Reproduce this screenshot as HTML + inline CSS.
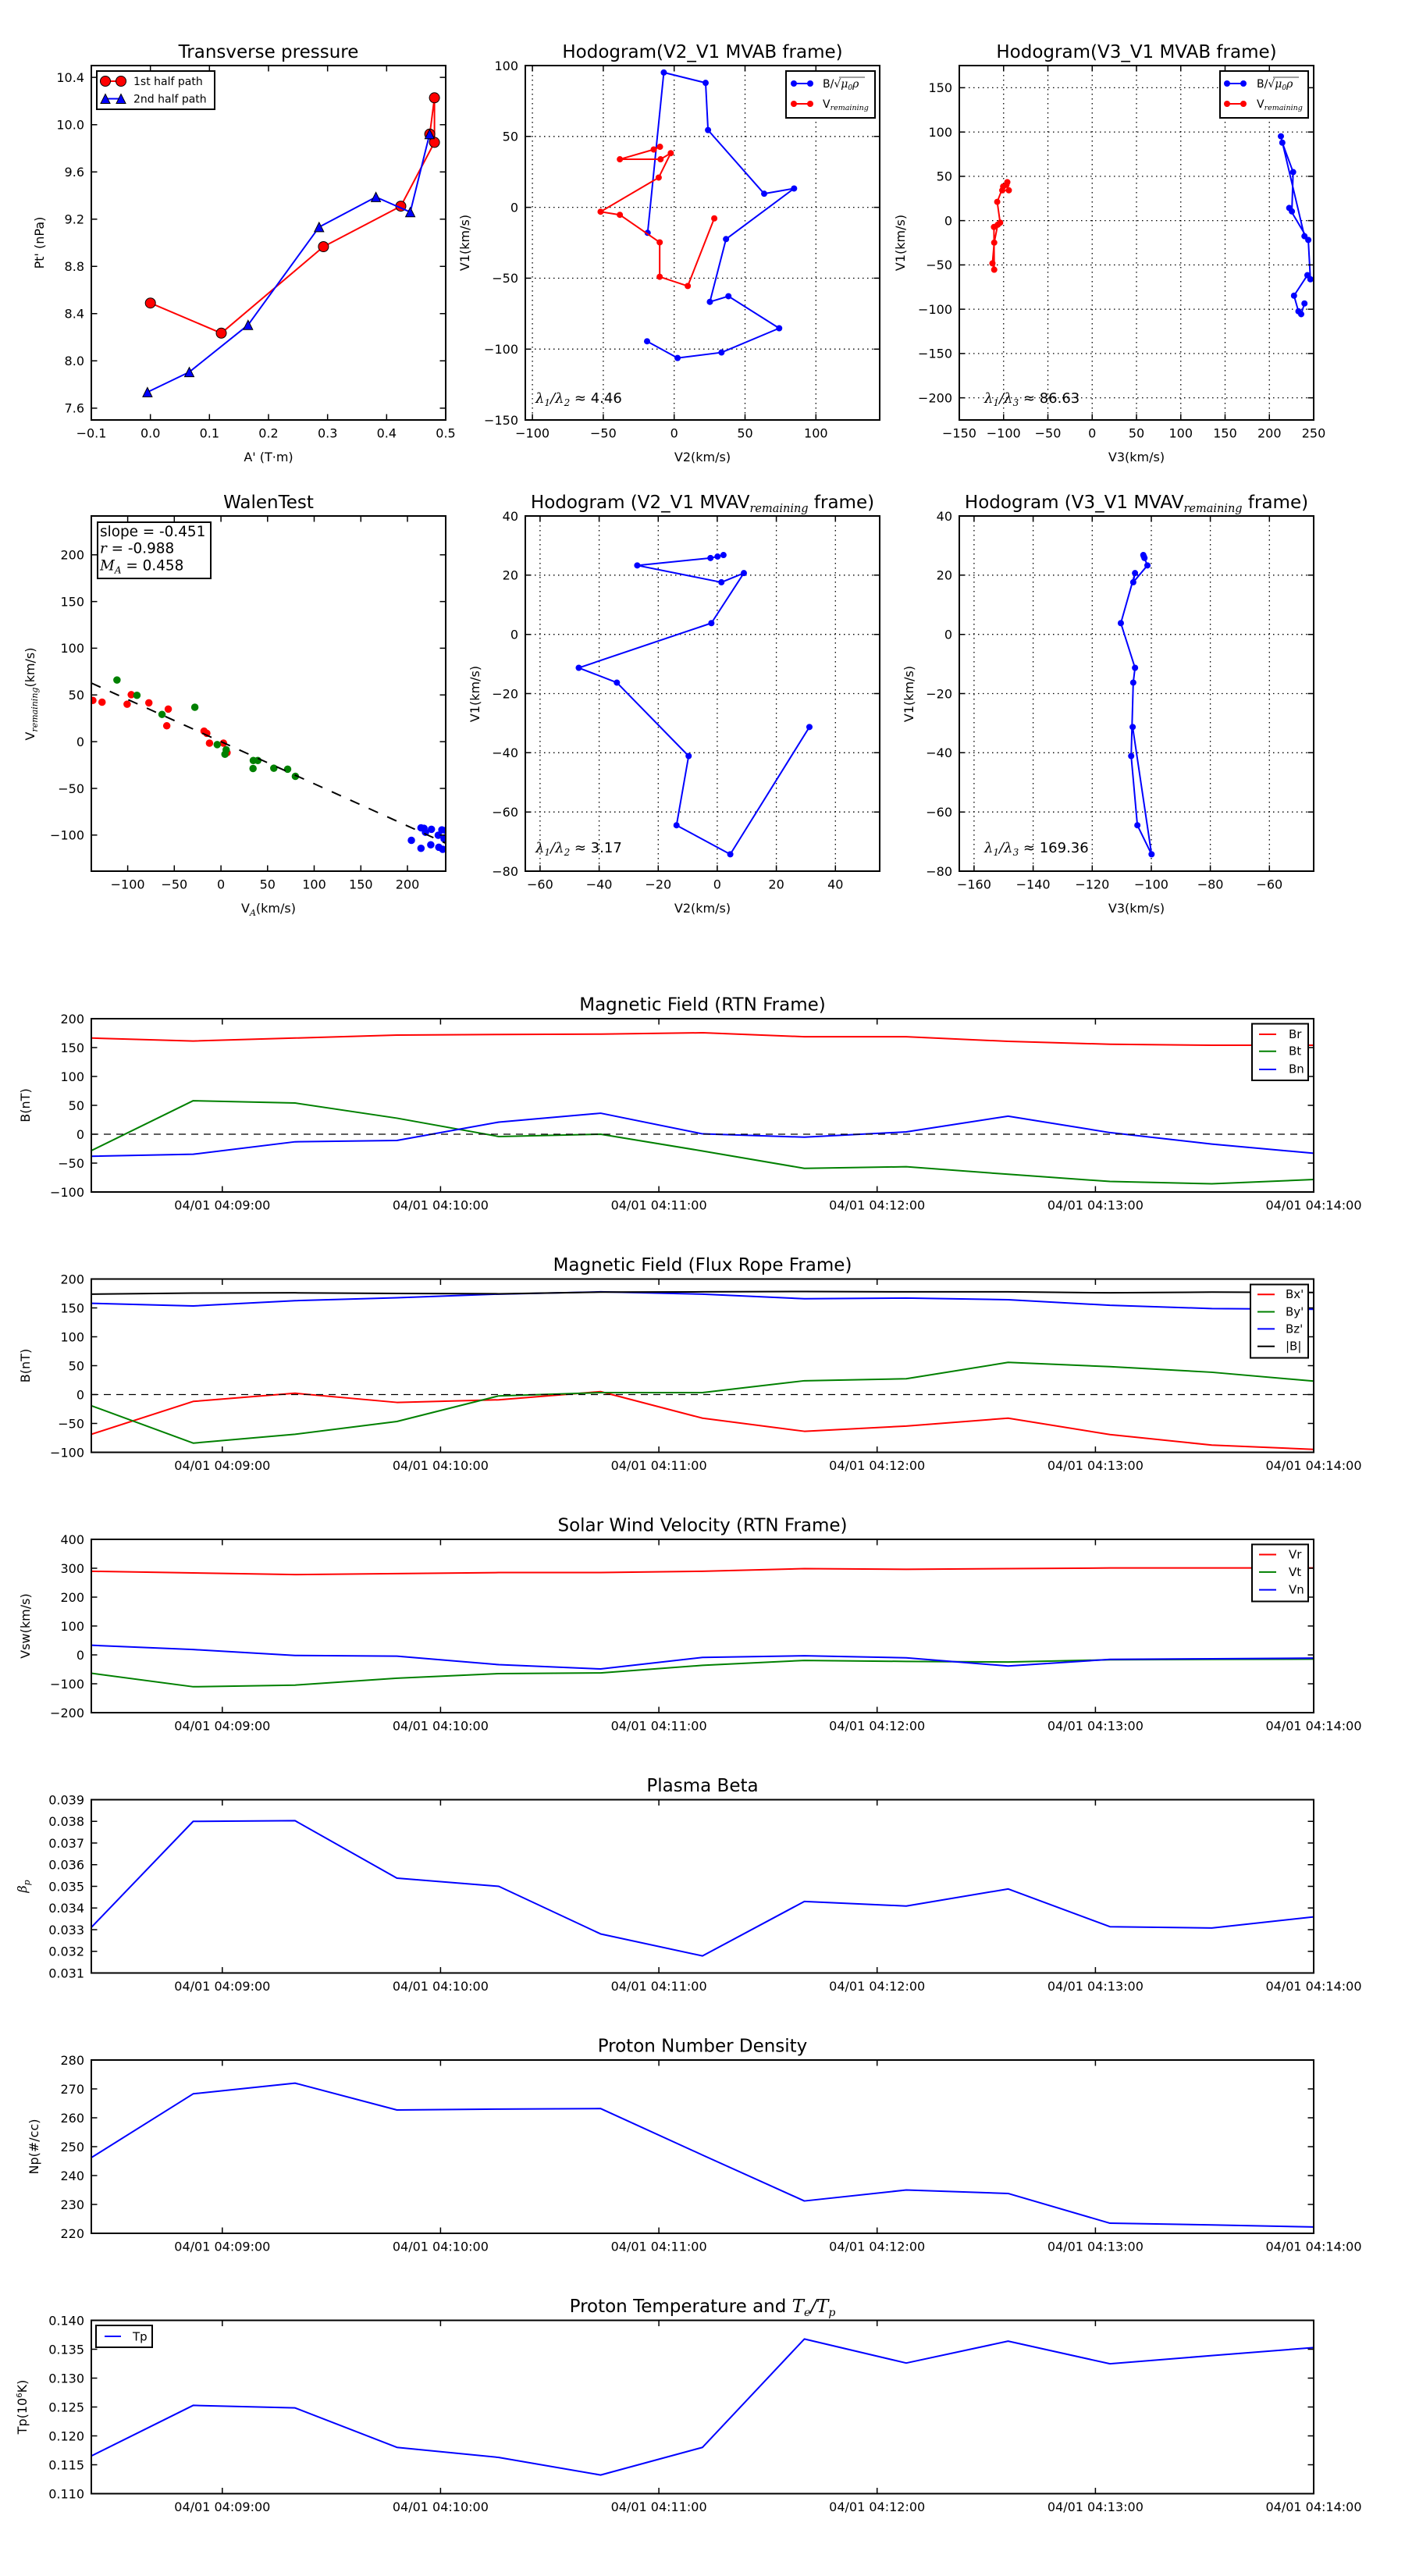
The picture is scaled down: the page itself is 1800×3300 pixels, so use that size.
<!DOCTYPE html>
<html><head><meta charset="utf-8"><style>
html,body{margin:0;padding:0;background:#fff}
svg{display:block}
text{font-family:"DejaVu Sans","Liberation Sans",sans-serif;fill:#000}
.m{font-family:"DejaVu Serif","Liberation Serif",serif;font-style:italic}
.tk{font-size:16px}
.ti{font-size:23px;text-anchor:middle}
.lb{font-size:16px;text-anchor:middle}
.lg{font-size:14px}
.lg2{font-size:15px}
.frame{fill:none;stroke:#000;stroke-width:2}
.tick{fill:none;stroke:#000;stroke-width:1.5}
.grid{fill:none;stroke:#000;stroke-width:1.3;stroke-dasharray:1.5,4.5}
.ln{fill:none;stroke-width:2;stroke-linejoin:round}
.mk{fill:none;stroke-linecap:round}
</style></head><body>
<svg width="1800" height="3300" viewBox="0 0 1800 3300" xmlns="http://www.w3.org/2000/svg">
<rect width="1800" height="3300" fill="#fff"/>

<!-- ============ Panel 1: Transverse pressure ============ -->
<text class="ti" x="344" y="74">Transverse pressure</text>
<polyline class="ln" stroke="#f00" points="192.7,388.2 283.5,426.8 414.4,316.0 513.5,264.1 556.6,182.4 556.6,125.3 550.6,171.8"/>
<g fill="#f00" stroke="#000" stroke-width="1">
<circle cx="192.7" cy="388.2" r="6.5"/><circle cx="283.5" cy="426.8" r="6.5"/><circle cx="414.4" cy="316.0" r="6.5"/><circle cx="513.5" cy="264.1" r="6.5"/><circle cx="556.6" cy="182.4" r="6.5"/><circle cx="556.6" cy="125.3" r="6.5"/><circle cx="550.6" cy="171.8" r="6.5"/>
</g>
<polyline class="ln" stroke="#00f" points="188.9,502.4 242.5,476.6 317.8,416.3 408.8,290.9 481.6,252.4 525.6,271.7 550.4,171.8"/>
<g fill="#00f" stroke="#000" stroke-width="1">
<polygon points="188.9,496.4 182.9,508.4 194.9,508.4"/><polygon points="242.5,470.6 236.5,482.6 248.5,482.6"/><polygon points="317.8,410.3 311.8,422.3 323.8,422.3"/><polygon points="408.8,284.9 402.8,296.9 414.8,296.9"/><polygon points="481.6,246.4 475.6,258.4 487.6,258.4"/><polygon points="525.6,265.7 519.6,277.7 531.6,277.7"/><polygon points="550.4,165.8 544.4,177.8 556.4,177.8"/>
</g>
<path class="tick" d="M192.67 538v-7.5M268.33 538v-7.5M344 538v-7.5M419.67 538v-7.5M495.33 538v-7.5M192.67 84v7.5M268.33 84v7.5M344 84v7.5M419.67 84v7.5M495.33 84v7.5M117 522.9h7.5M117 462.3h7.5M117 401.8h7.5M117 341.3h7.5M117 280.7h7.5M117 220.2h7.5M117 159.7h7.5M117 99.1h7.5M571 522.9h-7.5M571 462.3h-7.5M571 401.8h-7.5M571 341.3h-7.5M571 280.7h-7.5M571 220.2h-7.5M571 159.7h-7.5M571 99.1h-7.5"/>
<rect class="frame" x="117" y="84" width="454" height="454"/>
<rect x="124" y="91" width="151" height="49" fill="#fff" stroke="#000" stroke-width="2"/>
<line x1="135" y1="104" x2="155" y2="104" stroke="#f00" stroke-width="2"/>
<circle cx="135" cy="104" r="6.5" fill="#f00" stroke="#000"/><circle cx="155" cy="104" r="6.5" fill="#f00" stroke="#000"/>
<text class="lg" x="171" y="109" font-size="14.5">1st half path</text>
<line x1="135" y1="126.5" x2="155" y2="126.5" stroke="#00f" stroke-width="2"/>
<polygon points="135,120.5 129,132.5 141,132.5" fill="#00f" stroke="#000"/><polygon points="155,120.5 149,132.5 161,132.5" fill="#00f" stroke="#000"/>
<text class="lg" x="171" y="131.5" font-size="14.5">2nd half path</text>
<g class="tk" text-anchor="middle">
<text x="117" y="560.5">−0.1</text><text x="192.67" y="560.5">0.0</text><text x="268.33" y="560.5">0.1</text><text x="344" y="560.5">0.2</text><text x="419.67" y="560.5">0.3</text><text x="495.33" y="560.5">0.4</text><text x="571" y="560.5">0.5</text>
</g>
<g class="tk" text-anchor="end">
<text x="108" y="528.7">7.6</text><text x="108" y="468.1">8.0</text><text x="108" y="407.6">8.4</text><text x="108" y="347.1">8.8</text><text x="108" y="286.5">9.2</text><text x="108" y="226">9.6</text><text x="108" y="165.5">10.0</text><text x="108" y="104.9">10.4</text>
</g>
<text class="lb" x="344" y="591">A' (T·m)</text>
<text class="lb" transform="translate(56,311) rotate(-90)">Pt' (nPa)</text>

<!-- ============ Panel 2: Hodogram V2_V1 MVAB ============ -->
<text class="ti" x="900" y="74">Hodogram(V2_V1 MVAB frame)</text>
<path class="grid" d="M682.1 84V538M772.9 84V538M863.7 84V538M954.5 84V538M1045.3 84V538M673 174.8H1127M673 265.6H1127M673 356.4H1127M673 447.2H1127"/>
<svg x="673" y="84" width="454" height="454" viewBox="-105 -100 250 250" preserveAspectRatio="none">
<polyline class="ln" stroke="#00f" vector-effect="non-scaling-stroke" points="-18.7,18 -7.3,-95.1 22.2,-87.8 23.9,-54.5 63.5,-9.6 84.6,-13.3 36.6,22.4 25.2,66.7 38.3,62.7 74.1,85.3 33.4,102.4 2.4,106.3 -19.1,94.5"/>
<path class="mk" stroke="#00f" stroke-width="8" vector-effect="non-scaling-stroke" d="M-18.7 18h.01M-7.3 -95.1h.01M22.2 -87.8h.01M23.9 -54.5h.01M63.5 -9.6h.01M84.6 -13.3h.01M36.6 22.4h.01M25.2 66.7h.01M38.3 62.7h.01M74.1 85.3h.01M33.4 102.4h.01M2.4 106.3h.01M-19.1 94.5h.01"/>
<polyline class="ln" stroke="#f00" vector-effect="non-scaling-stroke" points="-10,-42.7 -14.4,-40.8 -38.3,-33.9 -9.6,-33.9 -2.4,-38.2 -10.9,-21 -51.9,3.1 -38.3,5.3 -10.2,24.7 -10.2,49 9.6,55.5 28.3,7.8"/>
<path class="mk" stroke="#f00" stroke-width="8" vector-effect="non-scaling-stroke" d="M-10 -42.7h.01M-14.4 -40.8h.01M-38.3 -33.9h.01M-9.6 -33.9h.01M-2.4 -38.2h.01M-10.9 -21h.01M-51.9 3.1h.01M-38.3 5.3h.01M-10.2 24.7h.01M-10.2 49h.01M9.6 55.5h.01M28.3 7.8h.01"/>
</svg>
<path class="tick" d="M682.1 538v-7.5M772.9 538v-7.5M863.7 538v-7.5M954.5 538v-7.5M1045.3 538v-7.5M682.1 84v7.5M772.9 84v7.5M863.7 84v7.5M954.5 84v7.5M1045.3 84v7.5M673 174.8h7.5M673 265.6h7.5M673 356.4h7.5M673 447.2h7.5M1127 174.8h-7.5M1127 265.6h-7.5M1127 356.4h-7.5M1127 447.2h-7.5"/>
<rect class="frame" x="673" y="84" width="454" height="454"/>
<rect x="1007" y="91" width="114" height="60" fill="#fff" stroke="#000" stroke-width="2"/>
<line x1="1017" y1="107" x2="1038" y2="107" stroke="#00f" stroke-width="2"/>
<circle cx="1017" cy="107" r="4" fill="#00f"/><circle cx="1038" cy="107" r="4" fill="#00f"/>
<text class="lg" x="1054" y="112">B/√<tspan class="m">μ<tspan font-size="9" dy="3">0</tspan><tspan dy="-3">ρ</tspan></tspan></text>
<line x1="1075" y1="99" x2="1108" y2="99" stroke="#000" stroke-width="0.8"/>
<line x1="1017" y1="133" x2="1038" y2="133" stroke="#f00" stroke-width="2"/>
<circle cx="1017" cy="133" r="4" fill="#f00"/><circle cx="1038" cy="133" r="4" fill="#f00"/>
<text class="lg" x="1054" y="138">V<tspan class="m" font-size="9.5" dy="3">remaining</tspan></text>
<text x="686" y="516" font-size="18"><tspan class="m">λ</tspan><tspan font-size="12" dy="4" class="m">1</tspan><tspan dy="-4" class="m">/</tspan><tspan class="m">λ</tspan><tspan font-size="12" dy="4" class="m">2</tspan><tspan dy="-4"> ≈ 4.46</tspan></text>
<g class="tk" text-anchor="middle">
<text x="682.1" y="560.5">−100</text><text x="772.9" y="560.5">−50</text><text x="863.7" y="560.5">0</text><text x="954.5" y="560.5">50</text><text x="1045.3" y="560.5">100</text>
</g>
<g class="tk" text-anchor="end">
<text x="664" y="89.8">100</text><text x="664" y="180.6">50</text><text x="664" y="271.4">0</text><text x="664" y="362.2">−50</text><text x="664" y="453">−100</text><text x="664" y="543.8">−150</text>
</g>
<text class="lb" x="900" y="591">V2(km/s)</text>
<text class="lb" transform="translate(601,311) rotate(-90)">V1(km/s)</text>

<!-- ============ Panel 3: Hodogram V3_V1 MVAB ============ -->
<text class="ti" x="1456" y="74">Hodogram(V3_V1 MVAB frame)</text>
<path class="grid" d="M1285.75 84V538M1342.5 84V538M1399.25 84V538M1456 84V538M1512.75 84V538M1569.5 84V538M1626.25 84V538M1229 112.4H1683M1229 169.1H1683M1229 225.9H1683M1229 282.6H1683M1229 339.4H1683M1229 396.1H1683M1229 452.9H1683M1229 509.6H1683"/>
<svg x="1229" y="84" width="454" height="454" viewBox="-150 -175 400 400" preserveAspectRatio="none">
<polyline class="ln" stroke="#00f" vector-effect="non-scaling-stroke" points="239.6,17.6 213,-95.2 214.6,-88 226.8,-54.8 225.4,-10.4 222.4,-14.3 243.9,21.8 246.3,66.2 242.9,61.6 227.8,84.7 232.8,102.3 235.9,105.6 239.6,93.5"/>
<path class="mk" stroke="#00f" stroke-width="8" vector-effect="non-scaling-stroke" d="M239.6 17.6h.01M213 -95.2h.01M214.6 -88h.01M226.8 -54.8h.01M225.4 -10.4h.01M222.4 -14.3h.01M243.9 21.8h.01M246.3 66.2h.01M242.9 61.6h.01M227.8 84.7h.01M232.8 102.3h.01M235.9 105.6h.01M239.6 93.5h.01"/>
<polyline class="ln" stroke="#f00" vector-effect="non-scaling-stroke" points="-95.8,-43.4 -96.8,-40.4 -94.1,-34.2 -101.5,-34.2 -100.5,-38.5 -107.2,-21.2 -103.9,2.3 -106.6,4.6 -110.6,24.8 -112.6,48.2 -110.6,55.4 -110.9,7.2"/>
<path class="mk" stroke="#f00" stroke-width="8" vector-effect="non-scaling-stroke" d="M-95.8 -43.4h.01M-96.8 -40.4h.01M-94.1 -34.2h.01M-101.5 -34.2h.01M-100.5 -38.5h.01M-107.2 -21.2h.01M-103.9 2.3h.01M-106.6 4.6h.01M-110.6 24.8h.01M-112.6 48.2h.01M-110.6 55.4h.01M-110.9 7.2h.01"/>
</svg>
<path class="tick" d="M1285.75 538v-7.5M1342.5 538v-7.5M1399.25 538v-7.5M1456 538v-7.5M1512.75 538v-7.5M1569.5 538v-7.5M1626.25 538v-7.5M1285.75 84v7.5M1342.5 84v7.5M1399.25 84v7.5M1456 84v7.5M1512.75 84v7.5M1569.5 84v7.5M1626.25 84v7.5M1229 112.4h7.5M1229 169.1h7.5M1229 225.9h7.5M1229 282.6h7.5M1229 339.4h7.5M1229 396.1h7.5M1229 452.9h7.5M1229 509.6h7.5M1683 112.4h-7.5M1683 169.1h-7.5M1683 225.9h-7.5M1683 282.6h-7.5M1683 339.4h-7.5M1683 396.1h-7.5M1683 452.9h-7.5M1683 509.6h-7.5"/>
<rect class="frame" x="1229" y="84" width="454" height="454"/>
<rect x="1563" y="91" width="113" height="60" fill="#fff" stroke="#000" stroke-width="2"/>
<line x1="1572" y1="107" x2="1593" y2="107" stroke="#00f" stroke-width="2"/>
<circle cx="1572" cy="107" r="4" fill="#00f"/><circle cx="1593" cy="107" r="4" fill="#00f"/>
<text class="lg" x="1610" y="112">B/√<tspan class="m">μ<tspan font-size="9" dy="3">0</tspan><tspan dy="-3">ρ</tspan></tspan></text>
<line x1="1631" y1="99" x2="1664" y2="99" stroke="#000" stroke-width="0.8"/>
<line x1="1572" y1="133" x2="1593" y2="133" stroke="#f00" stroke-width="2"/>
<circle cx="1572" cy="133" r="4" fill="#f00"/><circle cx="1593" cy="133" r="4" fill="#f00"/>
<text class="lg" x="1610" y="138">V<tspan class="m" font-size="9.5" dy="3">remaining</tspan></text>
<text x="1261" y="516" font-size="18"><tspan class="m">λ</tspan><tspan font-size="12" dy="4" class="m">1</tspan><tspan dy="-4" class="m">/</tspan><tspan class="m">λ</tspan><tspan font-size="12" dy="4" class="m">3</tspan><tspan dy="-4"> ≈ 86.63</tspan></text>
<g class="tk" text-anchor="middle">
<text x="1229" y="560.5">−150</text><text x="1285.75" y="560.5">−100</text><text x="1342.5" y="560.5">−50</text><text x="1399.25" y="560.5">0</text><text x="1456" y="560.5">50</text><text x="1512.75" y="560.5">100</text><text x="1569.5" y="560.5">150</text><text x="1626.25" y="560.5">200</text><text x="1683" y="560.5">250</text>
</g>
<g class="tk" text-anchor="end">
<text x="1220" y="118.2">150</text><text x="1220" y="174.9">100</text><text x="1220" y="231.7">50</text><text x="1220" y="288.4">0</text><text x="1220" y="345.2">−50</text><text x="1220" y="401.9">−100</text><text x="1220" y="458.7">−150</text><text x="1220" y="515.4">−200</text>
</g>
<text class="lb" x="1456" y="591">V3(km/s)</text>
<text class="lb" transform="translate(1159,311) rotate(-90)">V1(km/s)</text>

<!-- ============ Panel 4: WalenTest ============ -->
<text class="ti" x="344" y="651">WalenTest</text>
<svg x="117" y="661" width="454" height="455" viewBox="-139 -241.5 380 380" preserveAspectRatio="none">
<path class="mk" stroke="#f00" stroke-width="9.5" vector-effect="non-scaling-stroke" d="M-137.4 -44.2h.01M-127.5 -42.3h.01M-100.6 -40.1h.01M-96.2 -50.3h.01M-77.3 -41.6h.01M-56.5 -34.9h.01M-58.1 -17h.01M-18.1 -11.3h.01M-15.2 -9h.01M-12.3 1.5h.01M2.7 1.5h.01M6.5 11.8h.01"/>
<path class="mk" stroke="#008000" stroke-width="9.5" vector-effect="non-scaling-stroke" d="M-111.5 -66h.01M-90.1 -49.6h.01M-63.2 -29.2h.01M-28 -36.9h.01M-4 3.1h.01M5.6 8.6h.01M4.3 13.4h.01M34.7 20.1h.01M39.5 20.1h.01M34.4 28.7h.01M56.7 28.4h.01M71.5 29.4h.01M79.8 37h.01"/>
<path class="mk" stroke="#00f" stroke-width="9.5" vector-effect="non-scaling-stroke" d="M204.2 105.5h.01M214.5 92.1h.01M217.7 92.7h.01M219.3 96.9h.01M225.7 93.7h.01M214.5 114.1h.01M225 110.3h.01M233 100.1h.01M236.9 94.3h.01M233.6 112.9h.01M237.8 115.1h.01M239.3 103.9h.01M241 95h.01"/>
</svg>
<line x1="117" y1="875" x2="571" y2="1080.2" stroke="#000" stroke-width="2" stroke-dasharray="13,13"/>
<path class="tick" d="M163.6 1116v-7.5M223.3 1116v-7.5M283.1 1116v-7.5M342.8 1116v-7.5M402.5 1116v-7.5M462.3 1116v-7.5M522 1116v-7.5M163.6 661v7.5M223.3 661v7.5M283.1 661v7.5M342.8 661v7.5M402.5 661v7.5M462.3 661v7.5M522 661v7.5M117 710.7h7.5M117 770.6h7.5M117 830.4h7.5M117 890.3h7.5M117 950.1h7.5M117 1010h7.5M117 1069.8h7.5M571 710.7h-7.5M571 770.6h-7.5M571 830.4h-7.5M571 890.3h-7.5M571 950.1h-7.5M571 1010h-7.5M571 1069.8h-7.5"/>
<rect class="frame" x="117" y="661" width="454" height="455"/>
<rect x="125" y="669" width="145" height="72" fill="#fff" stroke="#000" stroke-width="2"/>
<text x="128" y="687" font-size="18.4">slope = -0.451</text>
<text x="128" y="708.5" font-size="18.4"><tspan class="m">r</tspan> = -0.988</text>
<text x="128" y="730.5" font-size="18.4"><tspan class="m">M</tspan><tspan class="m" font-size="12" dy="4">A</tspan><tspan dy="-4"> = 0.458</tspan></text>
<g class="tk" text-anchor="middle">
<text x="163.6" y="1138.5">−100</text><text x="223.3" y="1138.5">−50</text><text x="283.1" y="1138.5">0</text><text x="342.8" y="1138.5">50</text><text x="402.5" y="1138.5">100</text><text x="462.3" y="1138.5">150</text><text x="522" y="1138.5">200</text>
</g>
<g class="tk" text-anchor="end">
<text x="108" y="716.5">200</text><text x="108" y="776.4">150</text><text x="108" y="836.2">100</text><text x="108" y="896.1">50</text><text x="108" y="955.9">0</text><text x="108" y="1015.8">−50</text><text x="108" y="1075.6">−100</text>
</g>
<text class="lb" x="344" y="1169">V<tspan class="m" font-size="11" dy="4">A</tspan><tspan dy="-4">(km/s)</tspan></text>
<text class="lb" transform="translate(44,889) rotate(-90)">V<tspan class="m" font-size="11" dy="4">remaining</tspan><tspan dy="-4">(km/s)</tspan></text>

<!-- ============ Panel 5: Hodogram V2_V1 MVAV ============ -->
<text class="ti" x="900" y="651">Hodogram (V2_V1 MVAV<tspan class="m" font-size="14.5" dy="5">remaining</tspan><tspan dy="-5"> frame)</tspan></text>
<path class="grid" d="M691.9 661V1116M767.6 661V1116M843.3 661V1116M918.9 661V1116M994.6 661V1116M1070.3 661V1116M673 736.8H1127M673 812.7H1127M673 888.5H1127M673 964.3H1127M673 1040.2H1127"/>
<svg x="673" y="661" width="454" height="455" viewBox="-65 -40 120 120" preserveAspectRatio="none">
<polyline class="ln" stroke="#00f" vector-effect="non-scaling-stroke" points="2.1,-26.8 0.1,-26.3 -2.3,-25.8 -27.1,-23.3 1.4,-17.6 9,-20.7 -2,-3.8 -46.9,11.3 -34,16.3 -9.7,41.1 -13.8,64.5 4.4,74.3 31.2,31.3"/>
<path class="mk" stroke="#00f" stroke-width="8" vector-effect="non-scaling-stroke" d="M2.1 -26.8h.01M0.1 -26.3h.01M-2.3 -25.8h.01M-27.1 -23.3h.01M1.4 -17.6h.01M9 -20.7h.01M-2 -3.8h.01M-46.9 11.3h.01M-34 16.3h.01M-9.7 41.1h.01M-13.8 64.5h.01M4.4 74.3h.01M31.2 31.3h.01"/>
</svg>
<path class="tick" d="M691.9 1116v-7.5M767.6 1116v-7.5M843.3 1116v-7.5M918.9 1116v-7.5M994.6 1116v-7.5M1070.3 1116v-7.5M691.9 661v7.5M767.6 661v7.5M843.3 661v7.5M918.9 661v7.5M994.6 661v7.5M1070.3 661v7.5M673 736.8h7.5M673 812.7h7.5M673 888.5h7.5M673 964.3h7.5M673 1040.2h7.5M1127 736.8h-7.5M1127 812.7h-7.5M1127 888.5h-7.5M1127 964.3h-7.5M1127 1040.2h-7.5"/>
<rect class="frame" x="673" y="661" width="454" height="455"/>
<text x="686" y="1092" font-size="18"><tspan class="m">λ</tspan><tspan font-size="12" dy="4" class="m">1</tspan><tspan dy="-4" class="m">/</tspan><tspan class="m">λ</tspan><tspan font-size="12" dy="4" class="m">2</tspan><tspan dy="-4"> ≈ 3.17</tspan></text>
<g class="tk" text-anchor="middle">
<text x="691.9" y="1138.5">−60</text><text x="767.6" y="1138.5">−40</text><text x="843.3" y="1138.5">−20</text><text x="918.9" y="1138.5">0</text><text x="994.6" y="1138.5">20</text><text x="1070.3" y="1138.5">40</text>
</g>
<g class="tk" text-anchor="end">
<text x="664" y="666.8">40</text><text x="664" y="742.6">20</text><text x="664" y="818.5">0</text><text x="664" y="894.3">−20</text><text x="664" y="970.1">−40</text><text x="664" y="1046">−60</text><text x="664" y="1121.8">−80</text>
</g>
<text class="lb" x="900" y="1169">V2(km/s)</text>
<text class="lb" transform="translate(614,889) rotate(-90)">V1(km/s)</text>

<!-- ============ Panel 6: Hodogram V3_V1 MVAV ============ -->
<text class="ti" x="1456" y="651">Hodogram (V3_V1 MVAV<tspan class="m" font-size="14.5" dy="5">remaining</tspan><tspan dy="-5"> frame)</tspan></text>
<path class="grid" d="M1247.9 661V1116M1323.6 661V1116M1399.3 661V1116M1475 661V1116M1550.6 661V1116M1626.3 661V1116M1229 736.8H1683M1229 812.7H1683M1229 888.5H1683M1229 964.3H1683M1229 1040.2H1683"/>
<svg x="1229" y="661" width="454" height="455" viewBox="-165 -40 120 120" preserveAspectRatio="none">
<polyline class="ln" stroke="#00f" vector-effect="non-scaling-stroke" points="-102.7,-26.8 -102.5,-26.3 -102.3,-25.8 -101.3,-23.3 -106.1,-17.6 -105.5,-20.7 -110.3,-3.8 -105.5,11.3 -106.1,16.3 -106.8,41.1 -104.7,64.5 -99.9,74.3 -106.3,31.3"/>
<path class="mk" stroke="#00f" stroke-width="8" vector-effect="non-scaling-stroke" d="M-102.7 -26.8h.01M-102.5 -26.3h.01M-102.3 -25.8h.01M-101.3 -23.3h.01M-106.1 -17.6h.01M-105.5 -20.7h.01M-110.3 -3.8h.01M-105.5 11.3h.01M-106.1 16.3h.01M-106.8 41.1h.01M-104.7 64.5h.01M-99.9 74.3h.01M-106.3 31.3h.01"/>
</svg>
<path class="tick" d="M1247.9 1116v-7.5M1323.6 1116v-7.5M1399.3 1116v-7.5M1475 1116v-7.5M1550.6 1116v-7.5M1626.3 1116v-7.5M1247.9 661v7.5M1323.6 661v7.5M1399.3 661v7.5M1475 661v7.5M1550.6 661v7.5M1626.3 661v7.5M1229 736.8h7.5M1229 812.7h7.5M1229 888.5h7.5M1229 964.3h7.5M1229 1040.2h7.5M1683 736.8h-7.5M1683 812.7h-7.5M1683 888.5h-7.5M1683 964.3h-7.5M1683 1040.2h-7.5"/>
<rect class="frame" x="1229" y="661" width="454" height="455"/>
<text x="1261" y="1092" font-size="18"><tspan class="m">λ</tspan><tspan font-size="12" dy="4" class="m">1</tspan><tspan dy="-4" class="m">/</tspan><tspan class="m">λ</tspan><tspan font-size="12" dy="4" class="m">3</tspan><tspan dy="-4"> ≈ 169.36</tspan></text>
<g class="tk" text-anchor="middle">
<text x="1247.9" y="1138.5">−160</text><text x="1323.6" y="1138.5">−140</text><text x="1399.3" y="1138.5">−120</text><text x="1475" y="1138.5">−100</text><text x="1550.6" y="1138.5">−80</text><text x="1626.3" y="1138.5">−60</text>
</g>
<g class="tk" text-anchor="end">
<text x="1220" y="666.8">40</text><text x="1220" y="742.6">20</text><text x="1220" y="818.5">0</text><text x="1220" y="894.3">−20</text><text x="1220" y="970.1">−40</text><text x="1220" y="1046">−60</text><text x="1220" y="1121.8">−80</text>
</g>
<text class="lb" x="1456" y="1169">V3(km/s)</text>
<text class="lb" transform="translate(1170,889) rotate(-90)">V1(km/s)</text>

<!-- ============ TS A: Magnetic Field (RTN) ============ -->
<text class="ti" x="900" y="1294.5">Magnetic Field (RTN Frame)</text>
<svg x="117" y="1305" width="1566" height="222" viewBox="0 -200 336 300" preserveAspectRatio="none">
<polyline class="ln" stroke="#f00" vector-effect="non-scaling-stroke" points="0,-166.5 28,-161.4 56,-166.5 84,-171.6 112,-172.7 140,-173.3 168,-175.6 196,-168.8 224,-168.8 252,-160.8 280,-155.7 308,-154 336,-154"/>
<polyline class="ln" stroke="#008000" vector-effect="non-scaling-stroke" points="0,28.4 28,-58 56,-54 84,-27.8 112,4 140,0 168,29 196,59.1 224,56.3 252,69.3 280,81.8 308,85.8 336,78.4"/>
<polyline class="ln" stroke="#00f" vector-effect="non-scaling-stroke" points="0,38.1 28,34.7 56,13.1 84,10.8 112,-21 140,-36.4 168,-0.6 196,5.1 224,-4 252,-31.3 280,-2.8 308,17 336,33"/>
</svg>
<line x1="117" y1="1453" x2="1683" y2="1453" stroke="#000" stroke-width="1.2" stroke-dasharray="9,7"/>
<path class="tick" d="M284.8 1527v-7.5M564.4 1527v-7.5M844.1 1527v-7.5M1123.7 1527v-7.5M1403.4 1527v-7.5M284.8 1305v7.5M564.4 1305v7.5M844.1 1305v7.5M1123.7 1305v7.5M1403.4 1305v7.5M117 1342h7.5M117 1379h7.5M117 1416h7.5M117 1453h7.5M117 1490h7.5M1683 1342h-7.5M1683 1379h-7.5M1683 1416h-7.5M1683 1453h-7.5M1683 1490h-7.5"/>
<rect class="frame" x="117" y="1305" width="1566" height="222"/>
<rect x="1604" y="1311.5" width="72" height="72.5" fill="#fff" stroke="#000" stroke-width="2"/>
<line x1="1613" y1="1325" x2="1635" y2="1325" stroke="#f00" stroke-width="2"/><text class="lg2" x="1651" y="1330">Br</text>
<line x1="1613" y1="1346.7" x2="1635" y2="1346.7" stroke="#008000" stroke-width="2"/><text class="lg2" x="1651" y="1351.7">Bt</text>
<line x1="1613" y1="1370" x2="1635" y2="1370" stroke="#00f" stroke-width="2"/><text class="lg2" x="1651" y="1374.5">Bn</text>
<g class="tk" text-anchor="middle">
<text x="284.8" y="1549.5">04/01 04:09:00</text><text x="564.4" y="1549.5">04/01 04:10:00</text><text x="844.1" y="1549.5">04/01 04:11:00</text><text x="1123.7" y="1549.5">04/01 04:12:00</text><text x="1403.4" y="1549.5">04/01 04:13:00</text><text x="1683" y="1549.5">04/01 04:14:00</text>
</g>
<g class="tk" text-anchor="end">
<text x="108" y="1310.8">200</text><text x="108" y="1347.8">150</text><text x="108" y="1384.8">100</text><text x="108" y="1421.8">50</text><text x="108" y="1458.8">0</text><text x="108" y="1495.8">−50</text><text x="108" y="1532.8">−100</text>
</g>
<text class="lb" transform="translate(38,1416) rotate(-90)">B(nT)</text>

<!-- ============ TS B: Magnetic Field (Flux Rope) ============ -->
<text class="ti" x="900" y="1628">Magnetic Field (Flux Rope Frame)</text>
<svg x="117" y="1638.5" width="1566" height="222" viewBox="0 -200 336 300" preserveAspectRatio="none">
<polyline class="ln" stroke="#f00" vector-effect="non-scaling-stroke" points="0,68.8 28,11.9 56,-2.3 84,13.6 112,9.1 140,-5.1 168,40.9 196,63.6 224,54.5 252,40.9 280,69.3 308,87.5 336,94.9"/>
<polyline class="ln" stroke="#008000" vector-effect="non-scaling-stroke" points="0,19.3 28,84.1 56,68.8 84,46.6 112,2.3 140,-3.4 168,-3.4 196,-23.9 224,-27.3 252,-55.7 280,-48.3 308,-38.6 336,-23.3"/>
<polyline class="ln" stroke="#00f" vector-effect="non-scaling-stroke" points="0,-158 28,-153.4 56,-162.5 84,-167.6 112,-173.9 140,-177.8 168,-173.9 196,-165.9 224,-167 252,-164.2 280,-154.5 308,-148.9 336,-147.7"/>
<polyline class="ln" stroke="#000" vector-effect="non-scaling-stroke" points="0,-173.9 28,-175.6 56,-176.1 84,-175 112,-174.4 140,-177.3 168,-177.8 196,-178.4 224,-177.8 252,-177.8 280,-176.1 308,-177.3 336,-176.7"/>
</svg>
<line x1="117" y1="1786.5" x2="1683" y2="1786.5" stroke="#000" stroke-width="1.2" stroke-dasharray="9,7"/>
<path class="tick" d="M284.8 1860.5v-7.5M564.4 1860.5v-7.5M844.1 1860.5v-7.5M1123.7 1860.5v-7.5M1403.4 1860.5v-7.5M284.8 1638.5v7.5M564.4 1638.5v7.5M844.1 1638.5v7.5M1123.7 1638.5v7.5M1403.4 1638.5v7.5M117 1675.5h7.5M117 1712.5h7.5M117 1749.5h7.5M117 1786.5h7.5M117 1823.5h7.5M1683 1675.5h-7.5M1683 1712.5h-7.5M1683 1749.5h-7.5M1683 1786.5h-7.5M1683 1823.5h-7.5"/>
<rect class="frame" x="117" y="1638.5" width="1566" height="222"/>
<rect x="1602" y="1645.5" width="74" height="94" fill="#fff" stroke="#000" stroke-width="2"/>
<line x1="1611" y1="1658.2" x2="1633" y2="1658.2" stroke="#f00" stroke-width="2"/><text class="lg2" x="1647" y="1663.2">Bx'</text>
<line x1="1611" y1="1680.5" x2="1633" y2="1680.5" stroke="#008000" stroke-width="2"/><text class="lg2" x="1647" y="1685.5">By'</text>
<line x1="1611" y1="1702.4" x2="1633" y2="1702.4" stroke="#00f" stroke-width="2"/><text class="lg2" x="1647" y="1707.4">Bz'</text>
<line x1="1611" y1="1724.7" x2="1633" y2="1724.7" stroke="#000" stroke-width="2"/><text class="lg2" x="1647" y="1729.7">|B|</text>
<g class="tk" text-anchor="middle">
<text x="284.8" y="1883">04/01 04:09:00</text><text x="564.4" y="1883">04/01 04:10:00</text><text x="844.1" y="1883">04/01 04:11:00</text><text x="1123.7" y="1883">04/01 04:12:00</text><text x="1403.4" y="1883">04/01 04:13:00</text><text x="1683" y="1883">04/01 04:14:00</text>
</g>
<g class="tk" text-anchor="end">
<text x="108" y="1644.3">200</text><text x="108" y="1681.3">150</text><text x="108" y="1718.3">100</text><text x="108" y="1755.3">50</text><text x="108" y="1792.3">0</text><text x="108" y="1829.3">−50</text><text x="108" y="1866.3">−100</text>
</g>
<text class="lb" transform="translate(38,1749.5) rotate(-90)">B(nT)</text>

<!-- ============ TS C: Solar Wind Velocity ============ -->
<text class="ti" x="900" y="1961.5">Solar Wind Velocity (RTN Frame)</text>
<svg x="117" y="1972" width="1566" height="222" viewBox="0 -400 336 600" preserveAspectRatio="none">
<polyline class="ln" stroke="#f00" vector-effect="non-scaling-stroke" points="0,-289.5 28,-283.8 56,-278.1 84,-281.5 112,-285 140,-285 168,-289.5 196,-298.6 224,-296.4 252,-298.6 280,-300.9 308,-300.9 336,-300.9"/>
<polyline class="ln" stroke="#008000" vector-effect="non-scaling-stroke" points="0,63.6 28,110.3 56,104.6 84,80.6 112,64.7 140,62.4 168,36.2 196,19.1 224,22.6 252,24.8 280,16.9 308,15.7 336,14.6"/>
<polyline class="ln" stroke="#00f" vector-effect="non-scaling-stroke" points="0,-33.3 28,-18.5 56,2.1 84,4.3 112,33.9 140,48.7 168,8.9 196,3.2 224,10 252,38.5 280,15.7 308,13.4 336,11.2"/>
</svg>
<path class="tick" d="M284.8 2194v-7.5M564.4 2194v-7.5M844.1 2194v-7.5M1123.7 2194v-7.5M1403.4 2194v-7.5M284.8 1972v7.5M564.4 1972v7.5M844.1 1972v7.5M1123.7 1972v7.5M1403.4 1972v7.5M117 2009h7.5M117 2046h7.5M117 2083h7.5M117 2120h7.5M117 2157h7.5M1683 2009h-7.5M1683 2046h-7.5M1683 2083h-7.5M1683 2120h-7.5M1683 2157h-7.5"/>
<rect class="frame" x="117" y="1972" width="1566" height="222"/>
<rect x="1604" y="1978.5" width="72" height="73" fill="#fff" stroke="#000" stroke-width="2"/>
<line x1="1613" y1="1991.5" x2="1635" y2="1991.5" stroke="#f00" stroke-width="2"/><text class="lg2" x="1651" y="1996.5">Vr</text>
<line x1="1613" y1="2013.9" x2="1635" y2="2013.9" stroke="#008000" stroke-width="2"/><text class="lg2" x="1651" y="2018.9">Vt</text>
<line x1="1613" y1="2036.6" x2="1635" y2="2036.6" stroke="#00f" stroke-width="2"/><text class="lg2" x="1651" y="2041.6">Vn</text>
<g class="tk" text-anchor="middle">
<text x="284.8" y="2216.5">04/01 04:09:00</text><text x="564.4" y="2216.5">04/01 04:10:00</text><text x="844.1" y="2216.5">04/01 04:11:00</text><text x="1123.7" y="2216.5">04/01 04:12:00</text><text x="1403.4" y="2216.5">04/01 04:13:00</text><text x="1683" y="2216.5">04/01 04:14:00</text>
</g>
<g class="tk" text-anchor="end">
<text x="108" y="1977.8">400</text><text x="108" y="2014.8">300</text><text x="108" y="2051.8">200</text><text x="108" y="2088.8">100</text><text x="108" y="2125.8">0</text><text x="108" y="2162.8">−100</text><text x="108" y="2199.8">−200</text>
</g>
<text class="lb" transform="translate(38,2083) rotate(-90)">Vsw(km/s)</text>

<!-- ============ TS D: Plasma Beta ============ -->
<text class="ti" x="900" y="2295">Plasma Beta</text>
<svg x="117" y="2305.5" width="1566" height="222" viewBox="0 -39 336 8" preserveAspectRatio="none">
<polyline class="ln" stroke="#00f" vector-effect="non-scaling-stroke" points="0,-33.106 28,-38 56,-38.03 84,-35.379 112,-35 140,-32.803 168,-31.788 196,-34.303 224,-34.091 252,-34.879 280,-33.136 308,-33.076 336,-33.591"/>
</svg>
<path class="tick" d="M284.8 2527.5v-7.5M564.4 2527.5v-7.5M844.1 2527.5v-7.5M1123.7 2527.5v-7.5M1403.4 2527.5v-7.5M284.8 2305.5v7.5M564.4 2305.5v7.5M844.1 2305.5v7.5M1123.7 2305.5v7.5M1403.4 2305.5v7.5M117 2333.25h7.5M117 2361h7.5M117 2388.75h7.5M117 2416.5h7.5M117 2444.25h7.5M117 2472h7.5M117 2499.75h7.5M1683 2333.25h-7.5M1683 2361h-7.5M1683 2388.75h-7.5M1683 2416.5h-7.5M1683 2444.25h-7.5M1683 2472h-7.5M1683 2499.75h-7.5"/>
<rect class="frame" x="117" y="2305.5" width="1566" height="222"/>
<g class="tk" text-anchor="middle">
<text x="284.8" y="2550">04/01 04:09:00</text><text x="564.4" y="2550">04/01 04:10:00</text><text x="844.1" y="2550">04/01 04:11:00</text><text x="1123.7" y="2550">04/01 04:12:00</text><text x="1403.4" y="2550">04/01 04:13:00</text><text x="1683" y="2550">04/01 04:14:00</text>
</g>
<g class="tk" text-anchor="end">
<text x="108" y="2311.3">0.039</text><text x="108" y="2339.05">0.038</text><text x="108" y="2366.8">0.037</text><text x="108" y="2394.55">0.036</text><text x="108" y="2422.3">0.035</text><text x="108" y="2450.05">0.034</text><text x="108" y="2477.8">0.033</text><text x="108" y="2505.55">0.032</text><text x="108" y="2533.3">0.031</text>
</g>
<text class="lb" transform="translate(34,2416.5) rotate(-90)"><tspan class="m">β</tspan><tspan class="m" font-size="11" dy="4">p</tspan></text>

<!-- ============ TS E: Proton Number Density ============ -->
<text class="ti" x="900" y="2628.5">Proton Number Density</text>
<svg x="117" y="2639" width="1566" height="222" viewBox="0 -280 336 60" preserveAspectRatio="none">
<polyline class="ln" stroke="#00f" vector-effect="non-scaling-stroke" points="0,-246.2 28,-268.3 56,-272 84,-262.7 112,-263 140,-263.2 168,-247.1 196,-231.2 224,-235 252,-233.8 280,-223.5 308,-222.9 336,-222.2"/>
</svg>
<path class="tick" d="M284.8 2861v-7.5M564.4 2861v-7.5M844.1 2861v-7.5M1123.7 2861v-7.5M1403.4 2861v-7.5M284.8 2639v7.5M564.4 2639v7.5M844.1 2639v7.5M1123.7 2639v7.5M1403.4 2639v7.5M117 2676h7.5M117 2713h7.5M117 2750h7.5M117 2787h7.5M117 2824h7.5M1683 2676h-7.5M1683 2713h-7.5M1683 2750h-7.5M1683 2787h-7.5M1683 2824h-7.5"/>
<rect class="frame" x="117" y="2639" width="1566" height="222"/>
<g class="tk" text-anchor="middle">
<text x="284.8" y="2883.5">04/01 04:09:00</text><text x="564.4" y="2883.5">04/01 04:10:00</text><text x="844.1" y="2883.5">04/01 04:11:00</text><text x="1123.7" y="2883.5">04/01 04:12:00</text><text x="1403.4" y="2883.5">04/01 04:13:00</text><text x="1683" y="2883.5">04/01 04:14:00</text>
</g>
<g class="tk" text-anchor="end">
<text x="108" y="2644.8">280</text><text x="108" y="2681.8">270</text><text x="108" y="2718.8">260</text><text x="108" y="2755.8">250</text><text x="108" y="2792.8">240</text><text x="108" y="2829.8">230</text><text x="108" y="2866.8">220</text>
</g>
<text class="lb" transform="translate(49,2750) rotate(-90)">Np(#/cc)</text>

<!-- ============ TS F: Proton Temperature ============ -->
<text class="ti" x="900" y="2962">Proton Temperature and <tspan class="m">T</tspan><tspan class="m" font-size="14" dy="5">e</tspan><tspan class="m" dy="-5">/T</tspan><tspan class="m" font-size="14" dy="5">p</tspan></text>
<svg x="117" y="2972.5" width="1566" height="222" viewBox="0 -140 336 30" preserveAspectRatio="none">
<polyline class="ln" stroke="#00f" vector-effect="non-scaling-stroke" points="0,-116.52 28,-125.28 56,-124.84 84,-118.01 112,-116.27 140,-113.23 168,-118.01 196,-136.77 224,-132.61 252,-136.4 280,-132.48 308,-133.9 336,-135.28"/>
</svg>
<path class="tick" d="M284.8 3194.5v-7.5M564.4 3194.5v-7.5M844.1 3194.5v-7.5M1123.7 3194.5v-7.5M1403.4 3194.5v-7.5M284.8 2972.5v7.5M564.4 2972.5v7.5M844.1 2972.5v7.5M1123.7 2972.5v7.5M1403.4 2972.5v7.5M117 3009.5h7.5M117 3046.5h7.5M117 3083.5h7.5M117 3120.5h7.5M117 3157.5h7.5M1683 3009.5h-7.5M1683 3046.5h-7.5M1683 3083.5h-7.5M1683 3120.5h-7.5M1683 3157.5h-7.5"/>
<rect class="frame" x="117" y="2972.5" width="1566" height="222"/>
<rect x="123" y="2979" width="72" height="28" fill="#fff" stroke="#000" stroke-width="2"/>
<line x1="134" y1="2993" x2="155" y2="2993" stroke="#00f" stroke-width="2"/><text class="lg2" x="170" y="2998.5">Tp</text>
<g class="tk" text-anchor="middle">
<text x="284.8" y="3217">04/01 04:09:00</text><text x="564.4" y="3217">04/01 04:10:00</text><text x="844.1" y="3217">04/01 04:11:00</text><text x="1123.7" y="3217">04/01 04:12:00</text><text x="1403.4" y="3217">04/01 04:13:00</text><text x="1683" y="3217">04/01 04:14:00</text>
</g>
<g class="tk" text-anchor="end">
<text x="108" y="2978.3">0.140</text><text x="108" y="3015.3">0.135</text><text x="108" y="3052.3">0.130</text><text x="108" y="3089.3">0.125</text><text x="108" y="3126.3">0.120</text><text x="108" y="3163.3">0.115</text><text x="108" y="3200.3">0.110</text>
</g>
<text class="lb" transform="translate(34,3083.5) rotate(-90)">Tp(10<tspan font-size="10" dy="-6">6</tspan><tspan dy="6">K)</tspan></text>

</svg>
</body></html>
